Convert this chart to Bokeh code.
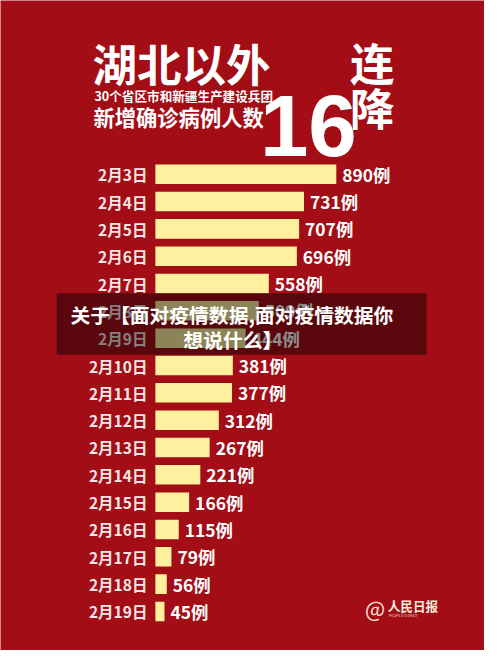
from bokeh.plotting import figure
from bokeh.models import Range1d, Label, BoxAnnotation, ColumnDataSource
from bokeh.embed import file_html
from bokeh.resources import INLINE
from bokeh.core.properties import value

# ---- data ----
dates = ["2月3日", "2月4日", "2月5日", "2月6日", "2月7日", "2月8日", "2月9日",
         "2月10日", "2月11日", "2月12日", "2月13日", "2月14日", "2月15日",
         "2月16日", "2月17日", "2月18日", "2月19日"]
cases = [890, 731, 707, 696, 558, 509, 444, 381, 377, 312, 267, 221, 166,
         115, 79, 56, 45]
unit = "例"
title_main = "湖北以外"
title_num = "16"
title_side = ["连", "降"]
subtitle1 = "30个省区市和新疆生产建设兵团"
subtitle2 = "新增确诊病例人数"
overlay_lines = ["关于【面对疫情数据,面对疫情数据你", "想说什么】"]

# ---- layout (reference-image pixels, 500 x 666) ----
W, H = 484, 650
S = W / 500.0       # font scale
BAR0 = 160          # ref x of value 0
PXU = 0.21          # ref pixels per case
ROW0 = 178          # ref y of first row centre
ROWH = 28           # ref pixels per row

def px2x(px):
    return (px - BAR0) / PXU

def py2y(py):
    return (py - ROW0) / ROWH

def fs(size):
    return f"{size * S:.1f}px"

RED = "#A30D16"
BAR = "#FFF0A0"
CJK = "Noto Sans CJK SC"

p = figure(width=W, height=H, output_backend="svg", toolbar_location=None,
           x_range=Range1d(px2x(0), px2x(500)),
           y_range=Range1d(py2y(666), py2y(0)),
           min_border=0)
p.axis.visible = False
p.grid.visible = False
p.outline_line_color = None
p.background_fill_color = RED
p.border_fill_color = RED

idx = list(range(len(dates)))
src = ColumnDataSource(dict(y=idx, v=cases, d=dates,
                            t=[f"{c}{unit}" for c in cases]))

p.hbar(y="y", left=0, right="v", height=20 / ROWH, source=src,
       fill_color=BAR, line_color=None)
p.text(x=0, y="y", text="d", source=src, x_offset=-8,
       text_align="right", text_baseline="middle",
       text_font=value(CJK), text_font_size=fs(16), text_font_style="bold",
       text_color="#F6E6E6")
p.text(x="v", y="y", text="t", source=src, x_offset=6,
       text_align="left", text_baseline="middle",
       text_font=value(CJK), text_font_size=fs(18), text_font_style="bold",
       text_color="#FFFFFF")

def lab(txt, px, py, size, align="left", base="middle", font=CJK,
        style="bold", color="#FFFFFF"):
    p.add_layout(Label(x=px2x(px), y=py2y(py), text=txt, text_align=align,
                       text_baseline=base, text_font=font,
                       text_font_size=fs(size), text_font_style=style,
                       text_color=color))

# title block
lab(title_num, 318, 128, 90, align="center", base="alphabetic",
    font="Liberation Sans")
lab(title_main, 95, 64, 46)
lab(subtitle1, 97, 97, 13)
lab(subtitle2, 96, 119, 22)
lab(title_side[0], 384, 63, 46, align="center")
lab(title_side[1], 384, 109, 46, align="center")

# watermark
lab("@", 387, 622, 22, align="center", style="normal", color="#F3E3D6")
lab("人民日报", 400, 620, 13, color="#F6EEDC")
lab("PEOPLE'S DAILY", 401, 630, 4, style="normal", color="#E8D8C8")

# overlay caption
p.add_layout(BoxAnnotation(left=px2x(58), right=px2x(440),
                           top=py2y(300), bottom=py2y(363),
                           fill_color="black", fill_alpha=0.45,
                           line_color=None))
lab(overlay_lines[0], 239, 322, 20.5, align="center")
lab(overlay_lines[1], 240, 347, 20.5, align="center")

open("out.html", "w").write(file_html(p, INLINE))
